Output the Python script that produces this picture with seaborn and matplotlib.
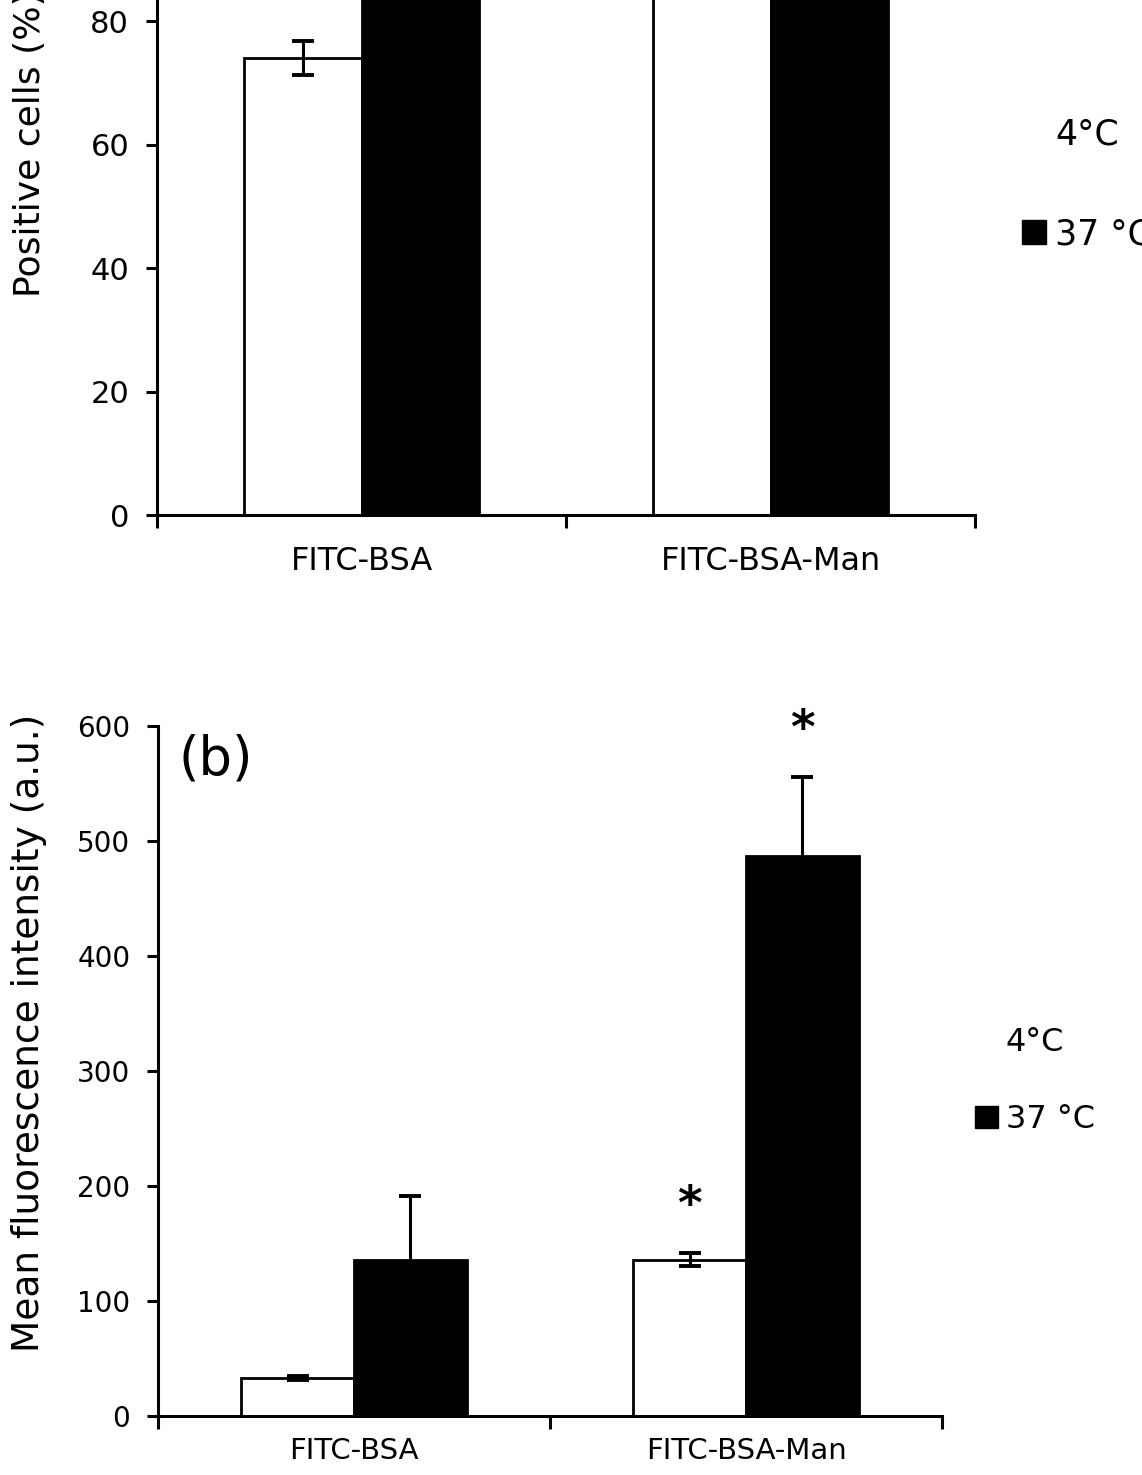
import numpy as np
import pandas as pd
import seaborn as sns
import matplotlib.pyplot as plt
from matplotlib.patches import Patch

samples = ["FITC-BSA", "FITC-BSA-Man"]
temps = ["4°C", "37 °C"]

# (a) positive cells (%)  - top of this panel is cut off in the original
pos_4c = [74, 97]
pos_4c_err = [2.8, 1.0]
pos_37c = [97, 99]
pos_37c_err = [1.0, 0.5]

# (b) mean fluorescence intensity (a.u.)
mfi_4c = [33, 136]
mfi_4c_err = [2, 6]
mfi_37c = [136, 487]
mfi_37c_err = [55, 69]
# bars with an asterisk: (sample index, temp index)
signif = [(1, 0), (1, 1)]

sns.set_style("ticks")
plt.rcParams['font.family'] = ['DejaVu Sans']
for k in ["text.color", "axes.labelcolor", "xtick.color", "ytick.color", "axes.edgecolor"]:
    plt.rcParams[k] = "black"


def make_df(v4, e4, v37, e37):
    return pd.DataFrame({
        "sample": samples * 2,
        "temp": [temps[0]] * 2 + [temps[1]] * 2,
        "value": list(v4) + list(v37),
        "err": list(e4) + list(e37),
    })


def draw(ax, df, ymax, ystep, ytick_fs, xtick_fs, xpad, ylabel, lab_fs, lab_x, lab_y):
    sns.barplot(data=df, x="sample", y="value", hue="temp", order=samples,
                hue_order=temps, palette={temps[0]: "white", temps[1]: "black"},
                edgecolor="black", linewidth=2, width=0.575, saturation=1,
                errorbar=None, legend=False, ax=ax)
    for cont, t in zip(ax.containers, temps):
        sub = df[df.temp == t].set_index("sample").loc[samples]
        xs = [b.get_x() + b.get_width() / 2 for b in cont]
        ax.errorbar(xs, sub["value"], yerr=sub["err"], fmt="none", ecolor="black",
                    elinewidth=2.2, capsize=8, capthick=2.8, zorder=3)
    sns.despine(ax=ax)
    for s in ["left", "bottom"]:
        ax.spines[s].set_linewidth(2.2)
    ax.set_xlim(-0.5, 1.5)
    ax.set_ylim(0, ymax)
    ax.set_yticks(np.arange(0, ymax + 1, ystep))
    ax.tick_params(axis="y", labelsize=ytick_fs, length=8, width=2.2, pad=12)
    ax.set_xticks([0, 1])
    ax.set_xticks([-0.5, 0.5, 1.5], minor=True)
    ax.tick_params(axis="x", which="major", length=0, labelsize=xtick_fs, pad=xpad)
    ax.tick_params(axis="x", which="minor", length=9, width=2.2, direction="out")
    ax.set_xlabel("")
    ax.set_ylabel(ylabel, fontsize=lab_fs)
    ax.yaxis.set_label_coords(lab_x, lab_y)


fig = plt.figure(figsize=(11.42, 14.75), dpi=100)
ax1 = fig.add_axes([0.1375, 0.6508, 0.7163, 0.5024])
ax2 = fig.add_axes([0.1384, 0.0400, 0.6865, 0.4678])

df_a = make_df(pos_4c, pos_4c_err, pos_37c, pos_37c_err)
df_b = make_df(mfi_4c, mfi_4c_err, mfi_37c, mfi_37c_err)

draw(ax1, df_a, 120, 20, 22, 23, 22, "Positive cells (%)", 26, -0.134, 0.5)
draw(ax2, df_b, 600, 100, 20, 21, 15, "Mean fluorescence intensity (a.u.)", 27, -0.142, 0.555)

ax2.text(0.026, 0.951, "(b)", transform=ax2.transAxes, fontsize=38,
         ha="left", va="center")

for i, j in signif:
    bar = ax2.containers[j][i]
    top = df_b.value[j * 2 + i] + df_b.err[j * 2 + i]
    ax2.text(bar.get_x() + bar.get_width() / 2, top + 40, "*", fontsize=34,
             fontweight="bold", ha="center", va="center", clip_on=False)

handles = [Patch(facecolor="white", edgecolor="white", label=temps[0]),
           Patch(facecolor="black", edgecolor="black", label=temps[1])]
for ax, (lx, ly), fs, sp in [(ax1, (0.895, 0.875), 25, 1.9), (ax2, (0.854, 0.267), 23, 1.45)]:
    ax.legend(handles=handles, loc="center left", bbox_to_anchor=(lx, ly),
              bbox_transform=fig.transFigure, frameon=False, fontsize=fs,
              handlelength=0.7, handleheight=0.7, handletextpad=0.25,
              labelspacing=sp, borderpad=0, borderaxespad=0)

fig.savefig("out.png", dpi=100)
